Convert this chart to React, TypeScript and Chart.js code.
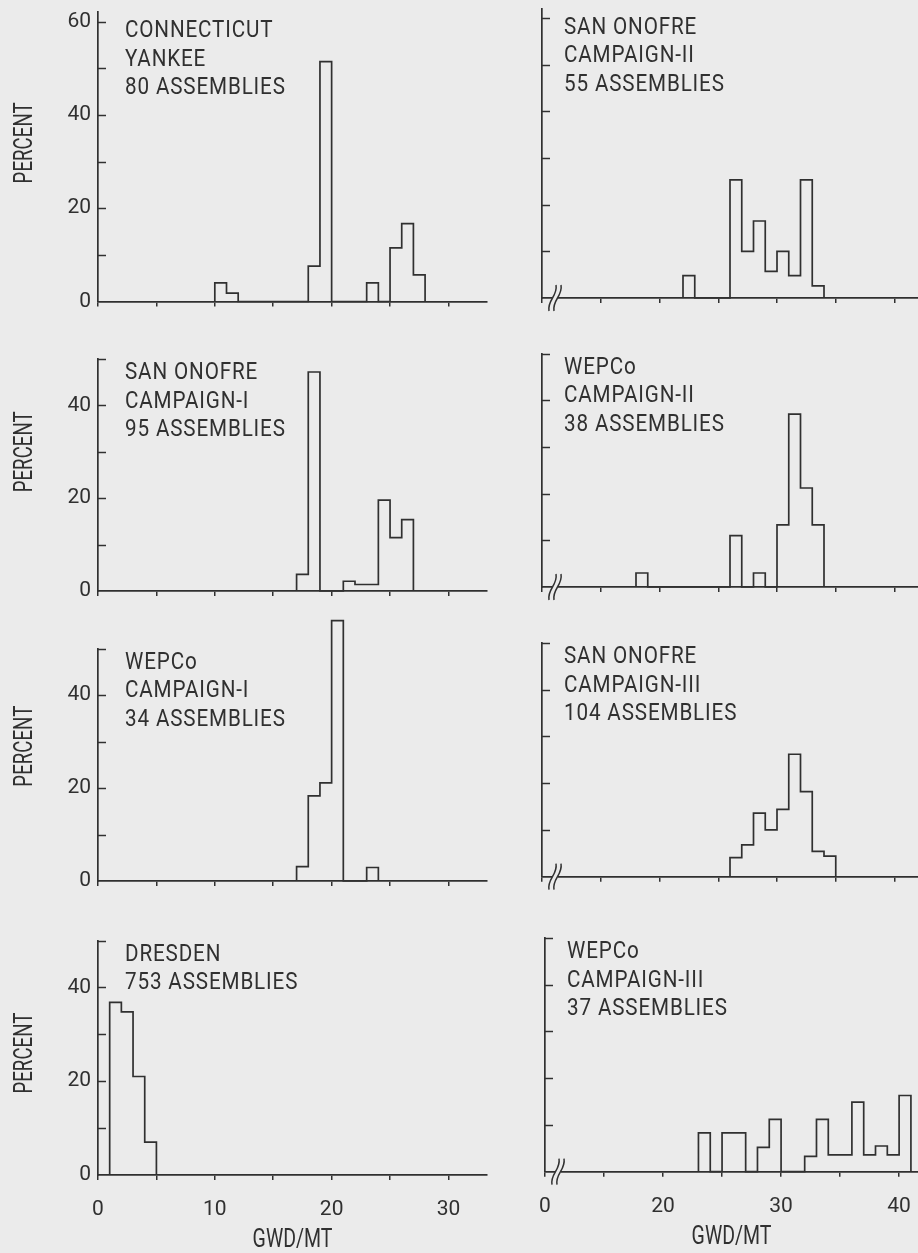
import React, { useEffect, useRef } from "react";
import { Chart, registerables } from "chart.js";

Chart.register(...registerables);

// ---------------- data (percent of assemblies per 1 GWD/MT bin; bins given by lower edge) ----------------
const binWidth = 1;

const cyBins = [10, 11, 18, 19, 23, 25, 26, 27];
const cyPercent = [4.0, 1.8, 7.6, 51.4, 4.0, 11.5, 16.7, 5.7];

const so2Bins = [22, 26, 27, 28, 29, 30, 31, 32, 33];
const so2Percent = [4.8, 25.3, 10.0, 16.5, 5.7, 10.0, 4.8, 25.3, 2.6];

const so1Bins = [17, 18, 21, 22, 23, 24, 25, 26];
const so1Percent = [3.6, 47.2, 2.1, 1.4, 1.4, 19.6, 11.5, 15.4];

const we2Bins = [18, 26, 28, 30, 31, 32, 33];
const we2Percent = [3.0, 11.0, 3.0, 13.3, 37.0, 21.2, 13.3];

const we1Bins = [17, 18, 19, 20, 23];
const we1Percent = [3.1, 18.3, 21.1, 56.0, 2.9];

const so3Bins = [26, 27, 28, 29, 30, 31, 32, 33, 34];
const so3Percent = [4.1, 6.8, 13.6, 10.0, 14.4, 26.2, 18.2, 5.4, 4.4];

const drBins = [1, 2, 3, 4];
const drPercent = [36.8, 34.8, 21.0, 7.0];

const we3Bins = [23, 25, 26, 28, 29, 32, 33, 34, 35, 36, 37, 38, 39, 40];
const we3Percent = [8.3, 8.3, 8.3, 5.2, 11.2, 3.3, 11.2, 3.6, 3.6, 14.9, 3.6, 5.5, 3.6, 16.3];

const cyLabel = ["CONNECTICUT", "YANKEE", "80 ASSEMBLIES"];
const so2Label = ["SAN ONOFRE", "CAMPAIGN-II", "55 ASSEMBLIES"];
const so1Label = ["SAN ONOFRE", "CAMPAIGN-I", "95 ASSEMBLIES"];
const we2Label = ["WEPCo", "CAMPAIGN-II", "38 ASSEMBLIES"];
const we1Label = ["WEPCo", "CAMPAIGN-I", "34 ASSEMBLIES"];
const so3Label = ["SAN ONOFRE", "CAMPAIGN-III", "104 ASSEMBLIES"];
const drLabel = ["DRESDEN", "753 ASSEMBLIES"];
const we3Label = ["WEPCo", "CAMPAIGN-III", "37 ASSEMBLIES"];

// tick labels
const leftXTickValues = [0, 10, 20, 30];
const leftXTickLabels = ["0", "10", "20", "30"];
const rightXTickValues = [10, 20, 30, 40];
const rightXTickLabels = ["0", "20", "30", "40"]; // broken axis: first tick reads 0
const leftYTickValues = [0, 20, 40, 60];
const leftYTickLabels = ["0", "20", "40", "60"];

const yTitle = "PERCENT";
const xTitle = "GWD/MT";

// ---------------- style / layout ----------------
const INK = "#303030";
const PAPER = "#ebebeb";
const FONT = "Roboto, 'DejaVu Sans', sans-serif";

const COLS = [
  { left: 0, width: 500, areaLeft: 98, areaRight: 487, xMin: 0, xMax: 33.3 },
  { left: 500, width: 418, areaLeft: 542, areaRight: 918, xMin: 10, xMax: 42 },
];
const ROWS = [
  { top: 0, height: 320 },
  { top: 320, height: 290 },
  { top: 610, height: 290 },
  { top: 900, height: 353 },
];

type Spec = {
  bins: number[];
  percent: number[];
  label: string[];
  col: number;
  row: number;
  yMax: number;
  areaTop: number;
  areaBottom: number;
  areaLeft?: number;
  xMax?: number;
  titleAt?: number;
};

const PANELS: Spec[] = [
  { bins: cyBins, percent: cyPercent, label: cyLabel, col: 0, row: 0, yMax: 62, areaTop: 12.2, areaBottom: 301.5, titleAt: 34 },
  { bins: so2Bins, percent: so2Percent, label: so2Label, col: 1, row: 0, yMax: 62, areaTop: 8.7, areaBottom: 298 },
  { bins: so1Bins, percent: so1Percent, label: so1Label, col: 0, row: 1, yMax: 50, areaTop: 359, areaBottom: 591, titleAt: 30 },
  { bins: we2Bins, percent: we2Percent, label: we2Label, col: 1, row: 1, yMax: 50, areaTop: 353.5, areaBottom: 587 },
  { bins: we1Bins, percent: we1Percent, label: we1Label, col: 0, row: 2, yMax: 50, areaTop: 648.5, areaBottom: 881, titleAt: 29 },
  { bins: so3Bins, percent: so3Percent, label: so3Label, col: 1, row: 2, yMax: 50, areaTop: 643, areaBottom: 876.7 },
  { bins: drBins, percent: drPercent, label: drLabel, col: 0, row: 3, yMax: 50, areaTop: 940.5, areaBottom: 1175, titleAt: 26 },
  { bins: we3Bins, percent: we3Percent, label: we3Label, col: 1, row: 3, yMax: 50, areaTop: 938, areaBottom: 1171.7, areaLeft: 545, xMax: 41.6 },
];

function stepPoints(bins: number[], percent: number[]) {
  const pts: { x: number; y: number }[] = [];
  bins.forEach((b, i) => {
    if (i === 0) pts.push({ x: b, y: 0 });
    else if (b !== bins[i - 1] + binWidth) pts.push({ x: bins[i - 1] + binWidth, y: 0 });
    pts.push({ x: b, y: percent[i] });
  });
  pts.push({ x: bins[bins.length - 1] + binWidth, y: 0 });
  return pts;
}

function drawText(
  ctx: CanvasRenderingContext2D,
  text: string,
  x: number,
  y: number,
  size: number,
  sx: number,
  align: CanvasTextAlign,
  baseline: CanvasTextBaseline,
  rot = 0,
  spacing = "0px"
) {
  ctx.save();
  ctx.translate(x, y);
  if (rot) ctx.rotate(rot);
  ctx.scale(sx, 1);
  ctx.font = `${size}px ${FONT}`;
  ctx.fillStyle = INK;
  ctx.textAlign = align;
  ctx.textBaseline = baseline;
  (ctx as any).letterSpacing = spacing;
  ctx.fillText(text, 0, 0);
  ctx.restore();
}

function Panel({ spec }: { spec: Spec }) {
  const ref = useRef<HTMLCanvasElement>(null);
  const col = COLS[spec.col];
  const row = ROWS[spec.row];
  const isLeft = spec.col === 0;
  const isBottom = spec.row === 3;

  useEffect(() => {
    const canvas = ref.current;
    if (!canvas) return;
    const areaLeft = (spec.areaLeft ?? col.areaLeft) - col.left;
    const padRight = col.left + col.width - col.areaRight;
    const padTop = spec.areaTop - row.top;
    const xH = row.top + row.height - spec.areaBottom;
    const xMax = spec.xMax ?? col.xMax;

    const decor = {
      id: "decor",
      afterDraw(chart: any) {
        const ctx: CanvasRenderingContext2D = chart.ctx;
        const area = chart.chartArea;
        const ys = chart.scales.y;
        const xs = chart.scales.x;
        ctx.save();
        ctx.strokeStyle = INK;
        ctx.lineWidth = 1.5;
        // inward y ticks
        ys.ticks.forEach((t: any) => {
          if (t.value <= 0) return;
          const py = Math.round(ys.getPixelForValue(t.value)) + 0.5;
          ctx.beginPath();
          ctx.moveTo(area.left, py);
          ctx.lineTo(area.left + 8, py);
          ctx.stroke();
        });
        // broken-axis mark on right-hand panels
        if (!isLeft) {
          const x0 = area.left + 11;
          const y0 = area.bottom;
          ctx.fillStyle = PAPER;
          ctx.fillRect(x0 - 1, y0 - 2, 6, 4);
          [0, 5].forEach((dx) => {
            ctx.beginPath();
            ctx.moveTo(x0 + dx - 4, y0 + 13);
            ctx.bezierCurveTo(x0 + dx - 6, y0 + 2, x0 + dx + 5, y0 - 2, x0 + dx + 3, y0 - 13);
            ctx.stroke();
          });
        }
        ctx.restore();
        // panel annotation
        const tx = area.left + (isLeft ? 27 : 22);
        const ty = area.top + (spec.row === 0 ? 25 : 20);
        spec.label.forEach((line, i) => {
          drawText(ctx, line, tx, ty + i * 28.5, 24, 0.86, "left", "alphabetic", 0, "1px");
        });
        // y title
        if (isLeft && spec.titleAt !== undefined) {
          drawText(ctx, yTitle, 25, ys.getPixelForValue(spec.titleAt), 26, 0.72, "center", "middle", -Math.PI / 2);
        }
        // x title
        if (isBottom) {
          drawText(ctx, xTitle, (area.left + area.right) / 2, area.bottom + 72, 25, 0.78, "center", "alphabetic");
        }
      },
    };

    const chart = new Chart(canvas, {
      type: "line",
      data: {
        datasets: [
          {
            data: stepPoints(spec.bins, spec.percent),
            stepped: true,
            borderColor: INK,
            borderWidth: 1.7,
            pointRadius: 0,
            fill: false,
            clip: false as any,
          } as any,
        ],
      },
      options: {
        animation: false,
        responsive: false,
        maintainAspectRatio: false,
        events: [],
        layout: { padding: { top: padTop, left: 0, right: padRight, bottom: 0 } },
        plugins: {
          legend: { display: false },
          tooltip: { enabled: false },
          title: { display: false },
        },
        scales: {
          x: {
            type: "linear",
            min: isLeft ? col.xMin : col.xMin,
            max: xMax,
            ticks: {
              stepSize: 5,
              includeBounds: false,
              autoSkip: false,
              maxRotation: 0,
              display: isBottom,
              padding: 17,
              color: INK,
              font: { family: FONT, size: 21 },
              callback: (v: any) => {
                const vals = isLeft ? leftXTickValues : rightXTickValues;
                const labs = isLeft ? leftXTickLabels : rightXTickLabels;
                const k = vals.indexOf(Number(v));
                return k >= 0 ? labs[k] : "";
              },
            },
            grid: { drawOnChartArea: false, drawTicks: true, tickLength: 5, color: INK, lineWidth: 1.5 },
            border: { display: true, color: INK, width: 1.7 },
            afterFit: (s: any) => {
              s.height = xH;
              s.paddingLeft = 0;
              s.paddingRight = 0;
            },
          },
          y: {
            type: "linear",
            min: 0,
            max: spec.yMax,
            ticks: {
              stepSize: 10,
              includeBounds: false,
              autoSkip: false,
              display: isLeft,
              padding: 7,
              color: INK,
              font: { family: FONT, size: 21 },
              callback: (v: any) => {
                const k = leftYTickValues.indexOf(Number(v));
                return k >= 0 ? leftYTickLabels[k] : "";
              },
            },
            grid: { drawOnChartArea: false, drawTicks: false },
            border: { display: true, color: INK, width: 1.7 },
            afterFit: (s: any) => {
              s.width = areaLeft;
              s.paddingTop = 0;
              s.paddingBottom = 0;
            },
          },
        },
      } as any,
      plugins: [decor],
    });
    return () => chart.destroy();
  }, [spec]);

  return (
    <canvas
      ref={ref}
      width={col.width}
      height={row.height}
      style={{ position: "absolute", left: col.left, top: row.top, width: col.width, height: row.height }}
    />
  );
}

export default function App() {
  return (
    <div
      style={{
        position: "absolute",
        left: 0,
        top: 0,
        width: 918,
        height: 1253,
        background: PAPER,
        overflow: "hidden",
      }}
    >
      {PANELS.map((p, i) => (
        <Panel key={i} spec={p} />
      ))}
    </div>
  );
}
